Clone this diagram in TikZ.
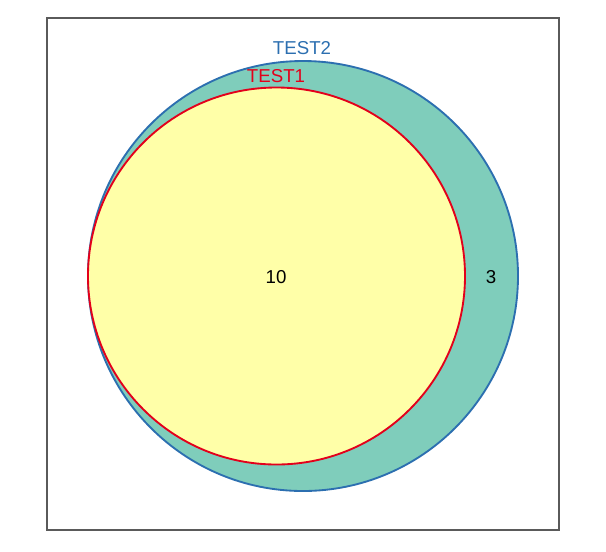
\documentclass[tikz,border=0pt]{standalone}
\usepackage{fontspec}
\setmainfont{Liberation Sans}
\usepackage{tikz}
\usetikzlibrary{positioning}
\definecolor{setyellow}{HTML}{FFFFA8}
\definecolor{setteal}{HTML}{7FCDBB}
\definecolor{setblue}{HTML}{2C6FB0}
\definecolor{setred}{HTML}{E3001B}
\definecolor{framegray}{HTML}{5A5A5A}
\begin{document}
\begin{tikzpicture}[x=0.75pt, y=-0.75pt, every node/.style={font=\fontsize{14}{16}\selectfont,inner sep=0pt}, setcircle/.style={circle,draw,line width=1.4pt,inner sep=0pt}]
\useasboundingbox (0,0) rectangle (606,551);
\node[draw=framegray,line width=0.8pt,minimum width=512*0.75pt,minimum height=512*0.75pt] (frame) at (303,274) {};
\node[setcircle,draw=setblue,fill=setteal,minimum size=430*0.75pt] (test2) at (303,276) {};
\node[setcircle,draw=setred,fill=setyellow,minimum size=377*0.75pt] (test1) at (276.5,276) {};
\node[text=setblue] (lbltwo) at (302,48) {TEST2};
\node[text=setred] (lblone) at (276,76) {TEST1};
\node (onlyone) at (276,277) {10};
\node (onlytwo) at (491,277) {3};
\end{tikzpicture}
\end{document}
